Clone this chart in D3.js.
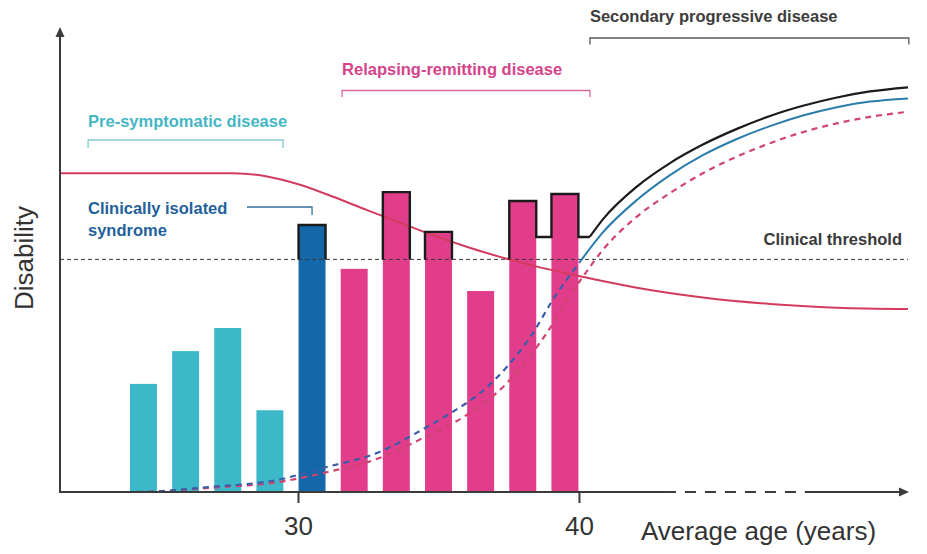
<!DOCTYPE html>
<html>
<head>
<meta charset="utf-8">
<script src="https://cdn.jsdelivr.net/npm/d3@7"></script>
<style>
  html, body { margin: 0; padding: 0; background: #ffffff; }
  svg { display: block; font-family: "Liberation Sans", Arial, sans-serif; }
</style>
</head>
<body>
<svg id="chart" width="927" height="554"></svg>
<script>
// ---------------- DATA ----------------
const barAges   = [24.5, 26, 27.5, 29, 30.5, 32, 33.5, 35, 36.5, 38, 39.5];
const barValues = [23.4, 30.5, 35.5, 17.7, 57.8, 48.3, 64.9, 56.3, 43.5, 63.0, 64.5];
const barPhase  = ["pre", "pre", "pre", "pre", "cis", "rr", "rr", "rr", "rr", "rr", "rr"];
const barWidthYears = 0.96;

const clinicalThreshold = 50.35;
const residualLevel = 55.2;          // accumulated disability after late relapses
const residualFromAge = 38;          // relapses from this age leave residual disability

// red solid
const reserveAges   = [21.53, 27.7, 28.9, 30.07, 31.25, 32.46, 33.63, 34.8, 36.0, 37.19, 38.36, 39.57, 40.75, 42.06, 44.41, 46.8, 49.18, 51.71];
const reserveValues = [69.0, 69.0, 68.3, 66.5, 63.9, 61.0, 58.3, 55.6, 53.1, 50.9, 49.0, 47.3, 45.8, 44.2, 42.1, 40.7, 39.9, 39.6];

// blue dashed, then blue solid
const blueDashAges   = [21.53, 24.27, 26.87, 29.25, 30.89, 32.92, 34.45, 35.52, 36.48, 37.44, 38.36, 39.07, 40.04];
const blueDashValues = [0, 0, 1.1, 2.6, 5.2, 8.7, 13.6, 17.4, 21.4, 27.1, 34.4, 41.6, 49.85];
const blueSolidAges   = [40.04, 40.85, 42.06, 43.24, 44.41, 45.62, 46.8, 47.97, 49.18, 50.36, 51.71];
const blueSolidValues = [49.85, 56.2, 63.2, 68.6, 72.9, 76.4, 79.2, 81.5, 83.3, 84.5, 85.2];

// red dashed
const redDashAges   = [21.53, 24.27, 26.87, 29.36, 30.89, 32.92, 34.45, 36.01, 37.44, 38.51, 39.22, 39.57, 40.14, 40.85, 42.06, 43.24, 44.41, 45.62, 46.8, 47.97, 49.18, 50.36, 51.71];
const redDashValues = [0, 0, 0.9, 2.2, 4.1, 7.4, 11.7, 16.7, 23.6, 31.45, 37.9, 41.6, 46.6, 52.4, 59.6, 64.7, 69.0, 72.6, 75.5, 77.9, 79.8, 81.2, 82.3];

// secondary progressive (black)
const spAges   = [40.39, 40.85, 42.06, 43.24, 44.41, 45.62, 46.8, 47.97, 49.18, 50.36, 51.71];
const spValues = [55.26, 59.0, 66.1, 71.2, 75.2, 78.6, 81.4, 83.6, 85.4, 86.7, 87.6];

const xTickValues = [30, 40];
const axisBreak = [43.06, 48.04];

const phaseLabels = [
  {key: "pre", text: "Pre-symptomatic disease", from: 22.53, to: 29.47},
  {key: "rr",  text: "Relapsing-remitting disease", from: 31.57, to: 40.39},
  {key: "sp",  text: "Secondary progressive disease", from: 40.39, to: 51.74}
];

// ---------------- LAYOUT / STYLE ----------------
const svg = d3.select("#chart");
const x = d3.scaleLinear().domain([21.53, 51.71]).range([60, 908]);
const y = d3.scaleLinear().domain([0, 100]).range([492, 30]);

const colors = {
  pre: "#3db8c8", cis: "#1467a9", rr: "#e23d8b",
  reserve: "#d23c5c", redDash: "#cf4470", blueDash: "#3a5da6", blueSolid: "#2a7cab",
  black: "#1b1b1b", axis: "#3b3b3b"
};
const labelColors = { pre: "#45b6c5", rr: "#d4438b", sp: "#3c3c3c" };
const bracketColors = { pre: "#82c7d0", rr: "#d9679f", sp: "#5a5a5a" };

// ---------------- BARS ----------------
const bars = barAges.map((a, i) => ({age: a, value: barValues[i], phase: barPhase[i]}));
const halfW = barWidthYears / 2;

svg.append("g").selectAll("rect").data(bars).join("rect")
  .attr("x", d => x(d.age - halfW))
  .attr("width", d => x(d.age + halfW) - x(d.age - halfW))
  .attr("y", d => y(d.value))
  .attr("height", d => y(0) - y(d.value))
  .attr("fill", d => colors[d.phase]);

// ---------------- THRESHOLD ----------------
svg.append("line")
  .attr("x1", x.range()[0]).attr("x2", x.range()[1])
  .attr("y1", y(clinicalThreshold)).attr("y2", y(clinicalThreshold))
  .attr("stroke", "#3a3a3a").attr("stroke-width", 1)
  .attr("stroke-dasharray", "4,3");

svg.append("text")
  .attr("x", 902).attr("y", 245)
  .attr("text-anchor", "end")
  .attr("font-size", 16.5).attr("font-weight", "bold")
  .attr("fill", "#3a3a3a")
  .text("Clinical threshold");

// ---------------- LINES ----------------
const toPts = (ages, vals) => ages.map((a, i) => [a, vals[i]]);
const line = d3.line().x(d => x(d[0])).y(d => y(d[1])).curve(d3.curveMonotoneX);

svg.append("path").datum(toPts(redDashAges, redDashValues))
  .attr("d", line).attr("fill", "none")
  .attr("stroke", colors.redDash).attr("stroke-width", 2.2)
  .attr("stroke-dasharray", "6,5");

svg.append("path").datum(toPts(blueDashAges, blueDashValues))
  .attr("d", line).attr("fill", "none")
  .attr("stroke", colors.blueDash).attr("stroke-width", 2.2)
  .attr("stroke-dasharray", "6,5");

svg.append("path").datum(toPts(blueSolidAges, blueSolidValues))
  .attr("d", line).attr("fill", "none")
  .attr("stroke", colors.blueSolid).attr("stroke-width", 2);

svg.append("path").datum(toPts(reserveAges, reserveValues))
  .attr("d", line).attr("fill", "none")
  .attr("stroke", colors.reserve).attr("stroke-width", 2);

// ---------------- BLACK OUTLINE (disability accumulation) ----------------
const over = bars.filter(d => d.value > clinicalThreshold);
let outline = "";
over.forEach((d, i) => {
  const l = x(d.age - halfW), r = x(d.age + halfW);
  const prevResidual = i > 0 && over[i - 1].age >= residualFromAge;
  const bottomL = prevResidual ? y(residualLevel) : y(clinicalThreshold);
  const bottomR = d.age >= residualFromAge ? y(residualLevel) : y(clinicalThreshold);
  if (prevResidual) outline += `H${l}V${y(d.value)}`;
  else outline += `M${l},${bottomL}V${y(d.value)}`;
  outline += `H${r}V${bottomR}`;
});
outline += `H${x(spAges[0])}`;
svg.append("path").attr("d", outline).attr("fill", "none")
  .attr("stroke", colors.black).attr("stroke-width", 2.4)
  .attr("stroke-linejoin", "miter");

svg.append("path").datum(toPts(spAges, spValues))
  .attr("d", line).attr("fill", "none")
  .attr("stroke", colors.black).attr("stroke-width", 2.2);

// ---------------- AXES ----------------
const ax = svg.append("g").attr("stroke", colors.axis).attr("stroke-width", 2).attr("fill", "none");
ax.append("line").attr("x1", 60).attr("x2", 60).attr("y1", y(0)).attr("y2", 34);
svg.append("path").attr("d", "M60,27L55.5,37L64.5,37Z").attr("fill", colors.axis);
ax.append("line").attr("x1", 59).attr("x2", x(axisBreak[0])).attr("y1", y(0)).attr("y2", y(0));
ax.append("line").attr("x1", x(axisBreak[0])).attr("x2", x(axisBreak[1])).attr("y1", y(0)).attr("y2", y(0))
  .attr("stroke-dasharray", "11,9");
ax.append("line").attr("x1", x(axisBreak[1])).attr("x2", 901).attr("y1", y(0)).attr("y2", y(0));
svg.append("path").attr("d", "M909,492L899,487.5L899,496.5Z").attr("fill", colors.axis);

const xAxis = d3.axisBottom(x).tickValues(xTickValues).tickSize(11).tickPadding(14)
  .tickFormat(d3.format("d"));
const gx = svg.append("g").attr("transform", `translate(0,${y(0)})`).call(xAxis);
gx.select(".domain").remove();
gx.selectAll(".tick line").attr("stroke", colors.axis).attr("stroke-width", 2);
gx.selectAll(".tick text").attr("font-size", 26).attr("fill", "#333")
  .attr("font-family", "Liberation Sans, Arial, sans-serif");

svg.append("text").attr("x", 641).attr("y", 540)
  .attr("font-size", 26).attr("fill", "#333")
  .text("Average age (years)");

svg.append("text").attr("transform", "translate(33,258) rotate(-90)")
  .attr("text-anchor", "middle")
  .attr("font-size", 26).attr("fill", "#333")
  .text("Disability");

// ---------------- PHASE LABELS & BRACKETS ----------------
const phaseLayout = { pre: {ty: 127, by: 140, tick: 8}, rr: {ty: 75, by: 90.5, tick: 6.5}, sp: {ty: 21.5, by: 38, tick: 6.5} };
phaseLabels.forEach(p => {
  const L = phaseLayout[p.key];
  svg.append("text").attr("x", x(p.from)).attr("y", L.ty)
    .attr("font-size", 16.5).attr("font-weight", "bold")
    .attr("fill", labelColors[p.key]).text(p.text);
  svg.append("path")
    .attr("d", `M${x(p.from)},${L.by + L.tick}V${L.by}H${x(p.to)}V${L.by + L.tick}`)
    .attr("fill", "none").attr("stroke", bracketColors[p.key]).attr("stroke-width", 1.3);
});

const cisBar = bars.find(d => d.phase === "cis");
svg.append("text").attr("font-size", 16.5).attr("font-weight", "bold").attr("fill", "#1f619b")
  .selectAll("tspan").data(["Clinically isolated", "syndrome"]).join("tspan")
  .attr("x", 88).attr("y", (d, i) => 214 + i * 22).text(d => d);
svg.append("path")
  .attr("d", `M247,207H${x(cisBar.age)}V215`)
  .attr("fill", "none").attr("stroke", "#2f6d98").attr("stroke-width", 1.3);
</script>
</body>
</html>
